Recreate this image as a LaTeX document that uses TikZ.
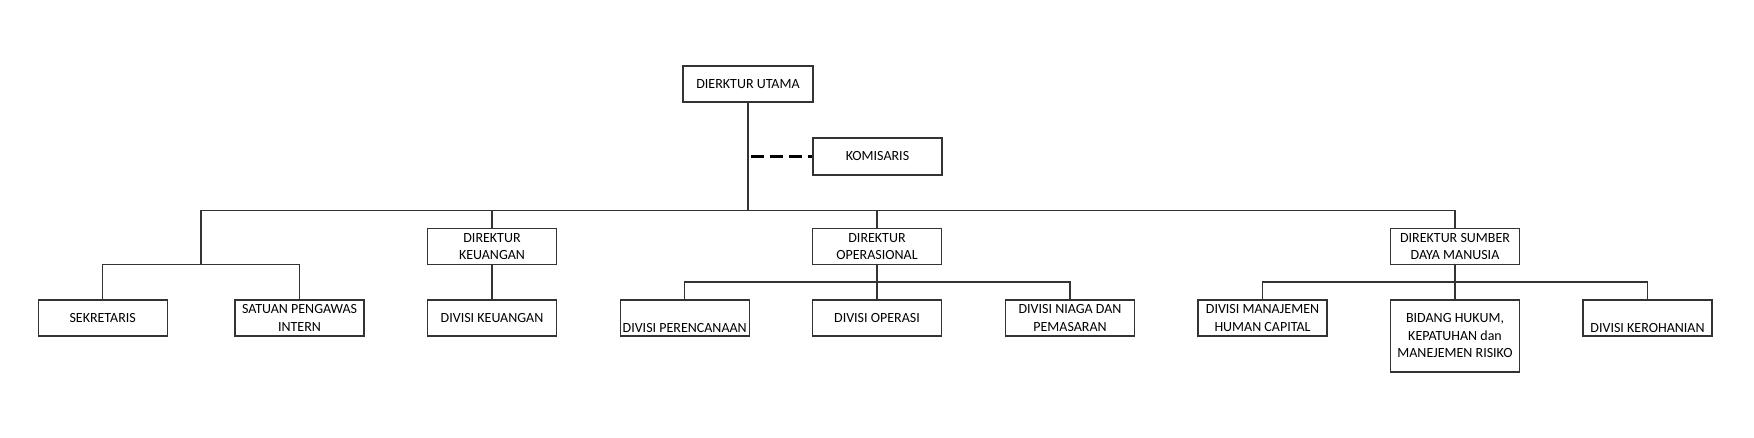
\documentclass[tikz,border=0pt]{standalone}
\usepackage{fontspec}
\setmainfont{Carlito}
\usepackage{tikz}
\tikzset{box/.style={draw=black!80,line width=1.4pt,minimum width=129pt,minimum height=36pt,
   inner sep=0pt,align=center,font=\fontsize{14}{17.5}\selectfont},
 tall/.style={minimum height=72pt},
 link/.style={draw=black!80,line width=1.4pt},
 komline/.style={draw=black,line width=3pt,dash pattern=on 13pt off 6pt,shorten <=3pt},
 }

\begin{document}
\begin{tikzpicture}[x=1pt,y=-1pt]
        \useasboundingbox (0,0) rectangle (1754,438);
        \node[box, minimum width=130pt] (utama) at (748, 84) {DIERKTUR UTAMA};
        \node[box, minimum height=37pt] (komisaris) at (877.5, 156.5) {KOMISARIS};
        \node[box] (keu) at (492, 246.5) {DIREKTUR\\KEUANGAN};
        \node[box] (ops) at (877, 246.5) {DIREKTUR\\OPERASIONAL};
        \node[box] (sdm) at (1455, 246.5) {DIREKTUR SUMBER\\DAYA MANUSIA};
        \node[box] (sekr) at (102.7, 318) {SEKRETARIS};
        \node[box] (satuan) at (299.5, 318) {SATUAN PENGAWAS\\INTERN};
        \node[box] (divkeu) at (492, 318) {DIVISI KEUANGAN};
        \node[box] (rencana) at (684.7, 318) {\strut\\DIVISI PERENCANAAN};
        \node[box] (operasi) at (877, 318) {DIVISI OPERASI};
        \node[box] (niaga) at (1070, 318) {DIVISI NIAGA DAN\\PEMASARAN};
        \node[box] (hc) at (1262.5, 318) {DIVISI MANAJEMEN\\HUMAN CAPITAL};
        \node[box, tall] (hukum) at (1455, 336) {BIDANG HUKUM,\\KEPATUHAN dan\\MANEJEMEN RISIKO};
        \node[box] (rohani) at (1647.5, 318) {\strut\\DIVISI KEROHANIAN};
        \coordinate (bar) at (201, 210.7);
        \coordinate (staffbar) at (201, 264.3);
        \coordinate (subbar) at (0, 282);
        % main bar
        \draw[link] (utama.south) -- (utama.south |- bar);
        \draw[link] (staffbar) -- (bar) -- (sdm.north |- bar) -- (sdm.north);
        \draw[link] (keu.north) -- (keu.north |- bar);
        \draw[link] (ops.north) -- (ops.north |- bar);
        \draw[komline] (komisaris.west -| utama.south) -- (komisaris.west);
        % staff
        \draw[link] (sekr.north) -- (sekr.north |- staffbar) -- (satuan.north |- staffbar) -- (satuan.north);
        \draw[link] (keu.south) -- (divkeu.north);
        % divisions
        \draw[link] (ops.south) -- (operasi.north);
        \draw[link] (rencana.north) -- (rencana.north |- subbar) -- (niaga.north |- subbar) -- (niaga.north);
        \draw[link] (sdm.south) -- (hukum.north);
        \draw[link] (hc.north) -- (hc.north |- subbar) -- (rohani.north |- subbar) -- (rohani.north);
    \end{tikzpicture}
\end{document}
